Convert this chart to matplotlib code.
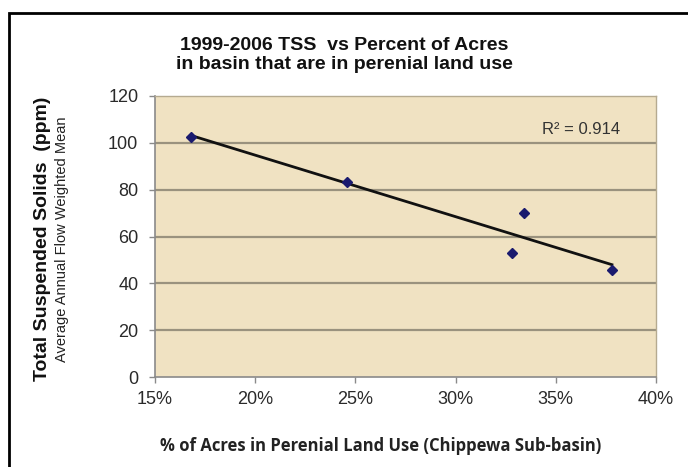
import numpy as np
import matplotlib
matplotlib.use("Agg")
import matplotlib.pyplot as plt
from matplotlib.patches import Rectangle
from matplotlib.ticker import FuncFormatter

# Data
pct_perennial = [16.8, 24.6, 33.4, 32.8, 37.8]      # % of acres in perennial land use
tss_ppm = [102.5, 83.3, 70.0, 52.9, 45.7]           # TSS, ppm
x_ticks = [15, 20, 25, 30, 35, 40]
y_ticks = [0, 20, 40, 60, 80, 100, 120]
title = "1999-2006 TSS  vs Percent of Acres\nin basin that are in perenial land use"
r2_label = "R² = 0.914"

W, H = 688, 467
fig = plt.figure(figsize=(W / 100, H / 100), dpi=100)
fig.patch.set_facecolor("white")

# axes placement in pixels: x 155..656, y 96..377
l, r, t, b = 155, 656, 96, 377
ax = fig.add_axes([l / W, 1 - b / H, (r - l) / W, (b - t) / H])
ax.set_facecolor("#F0E2C2")

ax.set_xlim(15, 40)
ax.set_ylim(0, 120)
ax.set_xticks(x_ticks)
ax.set_yticks(y_ticks)
ax.xaxis.set_major_formatter(FuncFormatter(lambda v, p: f"{v:.0f}%"))
for yv in y_ticks[1:-1]:
    ax.axhline(yv, color="#9A927E", lw=1.6, zorder=1)

for s in ["left", "bottom"]:
    ax.spines[s].set_color("#8A8A8A")
    ax.spines[s].set_linewidth(1.2)
for s in ["top", "right"]:
    ax.spines[s].set_color("#B5AA90")
    ax.spines[s].set_linewidth(1.0)
ax.tick_params(axis="both", colors="#8A8A8A", length=4, width=1.0,
               labelcolor="#2A2A2A", labelsize=13)
for lab in ax.get_xticklabels() + ax.get_yticklabels():
    lab.set_family("Liberation Sans")
ax.tick_params(axis="x", pad=6)
ax.tick_params(axis="y", pad=8)

# trendline (linear least squares)
x = np.array(pct_perennial)
y = np.array(tss_ppm)
m, c = np.polyfit(x, y, 1)
xs = np.array([x.min(), x.max()])
ax.plot(xs, m * xs + c, color="#111111", lw=2.0, zorder=3)
ax.plot(x, y, linestyle="none", marker="D", ms=5, color="#1A1A6E", zorder=4)

ax.text(581 / W, 1 - 130 / H, r2_label, transform=fig.transFigure,
        ha="center", va="center", fontsize=12, color="#333333",
        family="Liberation Sans")

fig.text(344 / W, 1 - 55 / H, title, ha="center", va="center",
         fontsize=14, fontweight="bold", family="Liberation Sans",
         linespacing=1.1, color="#111111")

fig.text(43 / W, 1 - 239 / H, "Total Suspended Solids  (ppm)", rotation=90,
         ha="center", va="center", fontsize=14, fontweight="bold",
         family="Liberation Sans", color="#111111")
fig.text(62 / W, 1 - 239 / H, "Average Annual Flow Weighted Mean", rotation=90,
         ha="center", va="center", fontsize=10.5,
         family="Liberation Sans", color="#222222")

fig.text(381 / W, 1 - 446 / H, "% of Acres in Perenial Land Use (Chippewa Sub-basin)",
         ha="center", va="center", fontsize=12, fontweight="bold",
         family="Open Sans", color="#222222")

# outer frame (cut off at right and bottom)
fig.patches.append(Rectangle((9 / W, -0.1), 1.2, 1 - 13 / H + 0.1,
                             transform=fig.transFigure, fill=False,
                             edgecolor="black", lw=2.0))

fig.savefig("out.png", dpi=100)
